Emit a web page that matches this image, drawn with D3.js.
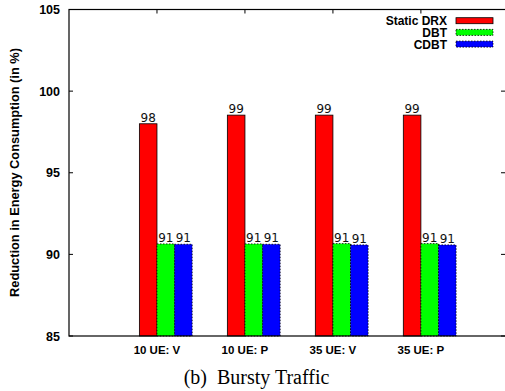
<!DOCTYPE html>
<html>
<head>
<meta charset="utf-8">
<script src="https://cdn.jsdelivr.net/npm/d3@7"></script>
<style>
  body { margin: 0; background: #fff; }
  svg { display: block; }
</style>
</head>
<body>
<svg id="chart" width="505" height="391"></svg>
<script>
// donnees
var categories = ["10 UE: V", "10 UE: P", "35 UE: V", "35 UE: P"];
var seriesNames = ["Static DRX", "DBT", "CDBT"];
var staticDrx = [98.0, 98.53, 98.53, 98.53];
var dbt = [90.64, 90.64, 90.66, 90.66];
var cdbt = [90.62, 90.62, 90.58, 90.58];
var yTicks = [85, 90, 95, 100, 105];
var colors = ["#ff0000", "#00ff00", "#0000ff"];

var series = [staticDrx, dbt, cdbt];

var svg = d3.select("#chart");
var pLeft = 69, pRight = 508, pTop = 9.5, pBottom = 336;

var x = d3.scaleLinear().domain([-1.1, 3.89]).range([pLeft, pRight]);
var y = d3.scaleLinear().domain([85, 105]).range([pBottom, pTop]);
var bw = 0.2; // largeur barre (unites de groupe)

var sans = "'Liberation Sans', Arial, Helvetica, sans-serif";

// barres
series.forEach(function(vals, j) {
    var g = svg.append("g");
    g.selectAll("rect").data(vals).enter().append("rect")
	.attr("x", function(d, i) { return x(i + (j - 1.5) * bw); })
	.attr("y", function(d) { return y(d); })
	.attr("width", function() { return x(bw) - x(0); })
	.attr("height", function(d) { return y(85) - y(d); })
	.style("fill", colors[j])
	.style("stroke", "#000")
	.style("stroke-width", 0.8)
	.style("stroke-dasharray", j == 0 ? null : "1.5,1.5");
    // etiquettes
    g.selectAll("text").data(vals).enter().append("text")
	.attr("x", function(d, i) { return x(i + (j - 1) * bw); })
	.attr("y", function(d) { return y(d) - 2; })
	.attr("text-anchor", "middle")
	.style("font-family", "'DejaVu Sans', sans-serif")
	.style("font-size", "12px")
	.style("fill", "#111")
	.text(function(d) { return Math.round(d); });
});

// cadre
svg.append("rect")
    .attr("x", pLeft).attr("y", pTop)
    .attr("width", pRight - pLeft).attr("height", pBottom - pTop)
    .style("fill", "none").style("stroke", "#000").style("stroke-width", 1.2);

// axe y
var yAxis = svg.append("g");
yTicks.forEach(function(t) {
    yAxis.append("line")
	.attr("x1", pLeft).attr("x2", pLeft + 4)
	.attr("y1", y(t)).attr("y2", y(t))
	.style("stroke", "#000");
    yAxis.append("line")
	.attr("x1", 505 - 4).attr("x2", 505)
	.attr("y1", y(t)).attr("y2", y(t))
	.style("stroke", "#000");
    yAxis.append("text")
	.attr("x", pLeft - 9).attr("y", y(t) + 4.5)
	.attr("text-anchor", "end")
	.style("font-family", sans).style("font-weight", "bold")
	.style("font-size", "12.5px")
	.text(t);
});

// axe x (tics a la jonction rouge/vert)
categories.forEach(function(c, i) {
    var xt = x(i - 0.5 * bw);
    svg.append("line")
	.attr("x1", xt).attr("x2", xt)
	.attr("y1", pTop).attr("y2", pTop + 4)
	.style("stroke", "#000");
    svg.append("text")
	.attr("x", xt).attr("y", 353.5)
	.attr("text-anchor", "middle")
	.style("font-family", sans).style("font-weight", "bold")
	.style("font-size", "11.5px")
	.text(c);
});

// titre axe y
svg.append("text")
    .attr("transform", "translate(19," + 172.5 + ") rotate(-90)")
    .attr("text-anchor", "middle")
    .style("font-family", sans).style("font-weight", "bold")
    .style("font-size", "12.8px")
    .text("Reduction in Energy Consumption (in %)");

// legende
seriesNames.forEach(function(n, j) {
    var ly = 21 + j * 11.7;
    svg.append("text")
	.attr("x", 447).attr("y", ly + 4.2)
	.attr("text-anchor", "end")
	.style("font-family", sans).style("font-weight", "bold")
	.style("font-size", "12px")
	.text(n);
    svg.append("rect")
	.attr("x", 456).attr("y", ly - 3.3)
	.attr("width", 37).attr("height", 6)
	.style("fill", colors[j])
	.style("stroke", "#000").style("stroke-width", 0.8)
	.style("stroke-dasharray", j == 0 ? null : "1.5,1.5");
});

// legende figure
svg.append("text")
    .attr("x", 256.5).attr("y", 383.5)
    .attr("text-anchor", "middle")
    .style("font-family", "'Liberation Serif', 'Times New Roman', serif")
    .style("font-size", "20px")
    .attr("xml:space", "preserve")
    .text("(b)  Bursty Traffic");
</script>
</body>
</html>
